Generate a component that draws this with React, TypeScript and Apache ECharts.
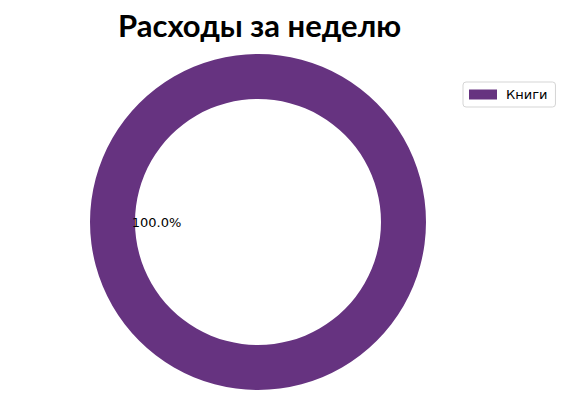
import React, { useEffect, useRef } from "react";
import * as echarts from "echarts";

const categories = ["Книги"];
const values = [1];
const colors = ["#663380"];
const titleText = "Расходы за неделю";

export default function App() {
  const ref = useRef<HTMLDivElement>(null);
  useEffect(() => {
    document.body.style.margin = "0";
    const chart = echarts.init(ref.current!, null, { renderer: "svg" });
    const data = categories.map((name, i) => ({ name, value: values[i] }));
    chart.setOption({
      animation: false,
      backgroundColor: "#ffffff",
      color: colors,
      title: {
        text: titleText,
        left: 113,
        top: 4,
        textStyle: { fontFamily: "Lato", fontWeight: "bold", fontSize: 31, color: "#000" },
      },
      legend: {
        data: categories,
        left: 463,
        top: 82,
        orient: "vertical",
        icon: "rect",
        itemWidth: 28,
        itemHeight: 10,
        padding: [6, 8, 6, 6],
        borderColor: "#d5d5d5",
        borderWidth: 1,
        borderRadius: 3,
        textStyle: { fontFamily: "DejaVu Sans", fontSize: 13, color: "#000", padding: [0, 0, 0, 4] },
      },
      series: [
        {
          type: "pie",
          name: "ring",
          center: [258, 222],
          radius: [123, 168],
          startAngle: 0,
          label: { show: false },
          labelLine: { show: false },
          emphasis: { disabled: true },
          data,
        },
        {
          type: "pie",
          name: "pct",
          center: [258, 222],
          radius: [0, 197],
          startAngle: 0,
          silent: true,
          itemStyle: { color: "rgba(0,0,0,0)" },
          label: {
            show: true,
            position: "inside",
            formatter: (p: any) => p.percent.toFixed(1) + "%",
            fontFamily: "DejaVu Sans",
            fontSize: 13,
            color: "#000",
          },
          labelLine: { show: false },
          emphasis: { disabled: true },
          data: data.map((d) => ({ ...d, name: d.name + " " })),
        },
      ],
    });
    return () => chart.dispose();
  }, []);
  return <div ref={ref} style={{ width: 567, height: 417 }} />;
}
